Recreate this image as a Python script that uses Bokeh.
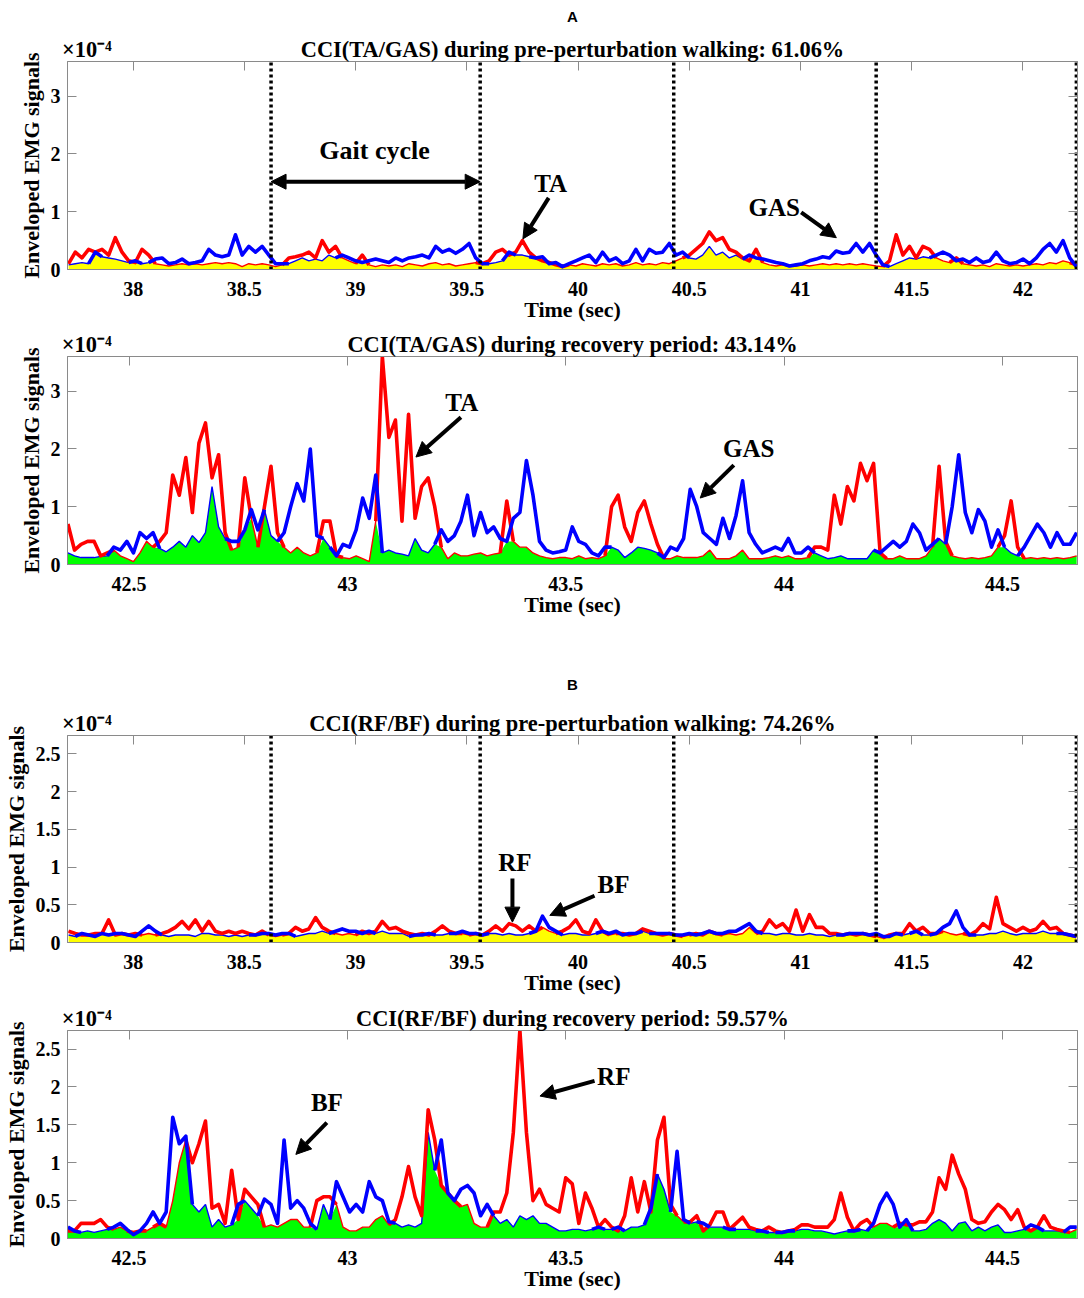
import numpy as np
from bokeh.plotting import figure
from bokeh.models import (Range1d, FixedTicker, LinearAxis, Arrow, NormalHead, Label, Title,
                          CustomJSTickFormatter)
from bokeh.layouts import column
from bokeh.embed import file_html
from bokeh.resources import INLINE

SERIF = "Liberation Serif"
SANS = "Liberation Sans"
AX_GRAY = "#8a8a8a"

# ---------------- data (x 1e-4) ----------------
pre_start, pre_step = 37.71, 0.03
rec_start, rec_step = 42.36, 0.015

ta_pre = [0.10,0.30,0.20,0.35,0.30,0.35,0.25,0.55,0.30,0.15,
          0.12,0.35,0.25,0.10,0.08,0.06,0.08,0.10,0.08,0.10,
          0.08,0.10,0.12,0.10,0.12,0.10,0.05,0.10,0.08,0.10,
          0.08,0.05,0.08,0.20,0.22,0.25,0.30,0.20,0.50,0.30,
          0.40,0.20,0.15,0.10,0.25,0.08,0.05,0.08,0.06,0.08,
          0.05,0.10,0.08,0.06,0.10,0.12,0.08,0.10,0.06,0.08,
          0.10,0.12,0.10,0.15,0.30,0.35,0.25,0.30,0.50,0.30,
          0.20,0.15,0.12,0.08,0.05,0.08,0.06,0.10,0.08,0.06,
          0.10,0.08,0.10,0.06,0.08,0.12,0.08,0.10,0.08,0.12,
          0.10,0.15,0.20,0.25,0.35,0.45,0.65,0.50,0.55,0.35,
          0.30,0.20,0.15,0.35,0.12,0.08,0.06,0.08,0.05,0.06,
          0.08,0.06,0.08,0.10,0.08,0.10,0.08,0.10,0.08,0.10,
          0.08,0.06,0.05,0.15,0.60,0.25,0.40,0.20,0.40,0.35,
          0.20,0.15,0.12,0.20,0.10,0.08,0.06,0.08,0.05,0.10,
          0.08,0.06,0.08,0.06,0.08,0.10,0.08,0.12,0.10,0.15,
          0.12,0.08]
gas_pre = [0.08,0.10,0.12,0.10,0.30,0.22,0.20,0.18,0.15,0.12,
           0.15,0.10,0.12,0.18,0.20,0.10,0.12,0.18,0.10,0.12,
           0.15,0.35,0.25,0.22,0.25,0.60,0.25,0.40,0.30,0.40,
           0.25,0.10,0.10,0.10,0.15,0.20,0.15,0.18,0.15,0.25,
           0.20,0.25,0.20,0.15,0.12,0.15,0.18,0.15,0.12,0.20,
           0.15,0.20,0.22,0.25,0.20,0.40,0.30,0.35,0.28,0.35,
           0.45,0.20,0.10,0.10,0.12,0.15,0.30,0.25,0.25,0.22,
           0.20,0.22,0.10,0.12,0.05,0.10,0.15,0.20,0.25,0.12,
           0.30,0.15,0.20,0.10,0.15,0.35,0.15,0.35,0.28,0.30,
           0.45,0.25,0.30,0.20,0.18,0.25,0.40,0.25,0.30,0.20,
           0.25,0.18,0.25,0.20,0.18,0.15,0.12,0.10,0.06,0.08,
           0.10,0.15,0.18,0.22,0.20,0.32,0.28,0.30,0.45,0.30,
           0.45,0.25,0.08,0.05,0.10,0.15,0.20,0.18,0.22,0.20,
           0.25,0.30,0.25,0.15,0.18,0.12,0.20,0.12,0.15,0.30,
           0.15,0.10,0.12,0.18,0.10,0.20,0.35,0.45,0.30,0.50,
           0.20,0.05]

ta_rec = [0.70,0.25,0.35,0.40,0.40,0.15,0.20,0.25,0.15,0.10,
          0.05,0.20,0.40,0.30,0.40,0.55,1.55,1.20,1.85,0.90,
          2.10,2.45,1.50,1.90,0.55,0.25,0.30,1.50,0.80,0.30,
          1.00,1.70,0.55,0.30,0.20,0.30,0.20,0.15,0.20,0.75,
          0.75,0.15,0.12,0.10,0.15,0.10,0.05,0.75,3.60,2.20,
          2.50,0.75,2.60,0.80,1.35,1.50,1.00,0.30,0.10,0.20,
          0.15,0.15,0.18,0.20,0.15,0.18,0.20,1.10,0.40,0.30,
          0.30,0.20,0.15,0.12,0.10,0.12,0.12,0.10,0.15,0.10,
          0.12,0.10,0.15,1.00,1.20,0.65,0.40,0.90,1.10,0.70,
          0.35,0.10,0.10,0.15,0.12,0.12,0.12,0.15,0.25,0.10,
          0.10,0.10,0.15,0.25,0.10,0.10,0.10,0.12,0.15,0.12,
          0.15,0.10,0.10,0.12,0.30,0.30,0.25,1.20,0.70,1.35,
          1.10,1.75,1.45,1.75,0.20,0.10,0.10,0.15,0.10,0.10,
          0.10,0.15,0.30,1.70,0.40,0.15,0.12,0.10,0.12,0.10,
          0.12,0.15,0.30,0.50,1.10,0.30,0.10,0.12,0.10,0.12,
          0.10,0.12,0.10,0.12,0.15]
gas_rec = [0.20,0.15,0.12,0.12,0.12,0.14,0.15,0.30,0.25,0.40,
           0.20,0.55,0.45,0.55,0.28,0.22,0.30,0.40,0.30,0.50,
           0.38,0.55,1.35,0.65,0.45,0.40,0.40,0.60,0.95,0.60,
           0.95,0.50,0.40,0.55,1.00,1.40,1.10,2.00,0.50,0.45,
           0.30,0.15,0.35,0.30,0.60,1.15,0.80,1.55,0.20,0.25,
           0.20,0.18,0.15,0.45,0.25,0.20,0.35,0.60,0.40,0.50,
           0.75,1.20,0.50,0.90,0.55,0.65,0.45,0.40,0.80,0.90,
           1.80,1.20,0.40,0.25,0.20,0.22,0.25,0.65,0.40,0.35,
           0.20,0.15,0.30,0.30,0.25,0.12,0.20,0.30,0.28,0.25,
           0.20,0.12,0.30,0.25,0.45,1.30,1.00,0.55,0.45,0.35,
           0.80,0.45,0.85,1.45,0.55,0.35,0.20,0.25,0.30,0.25,
           0.45,0.20,0.20,0.30,0.20,0.15,0.10,0.12,0.15,0.10,
           0.10,0.10,0.10,0.25,0.20,0.30,0.40,0.30,0.40,0.70,
           0.55,0.25,0.35,0.45,0.35,1.00,1.90,0.90,0.55,0.95,
           0.75,0.30,0.60,0.30,0.20,0.15,0.30,0.50,0.70,0.55,
           0.30,0.55,0.35,0.35,0.55]

rf_pre = [0.15,0.12,0.10,0.10,0.12,0.12,0.30,0.10,0.12,0.10,
          0.12,0.10,0.12,0.10,0.12,0.15,0.20,0.28,0.18,0.30,
          0.15,0.28,0.15,0.12,0.15,0.12,0.15,0.12,0.10,0.15,
          0.10,0.08,0.10,0.12,0.20,0.15,0.18,0.33,0.20,0.15,
          0.12,0.10,0.12,0.10,0.15,0.12,0.15,0.28,0.18,0.20,
          0.15,0.12,0.10,0.12,0.10,0.15,0.22,0.15,0.12,0.12,
          0.10,0.12,0.10,0.15,0.22,0.15,0.25,0.22,0.15,0.22,
          0.15,0.20,0.15,0.12,0.15,0.20,0.30,0.15,0.12,0.30,
          0.15,0.10,0.12,0.12,0.10,0.12,0.18,0.15,0.12,0.10,
          0.12,0.10,0.08,0.10,0.12,0.10,0.15,0.12,0.10,0.12,
          0.10,0.12,0.20,0.12,0.15,0.30,0.20,0.25,0.15,0.43,
          0.15,0.37,0.20,0.20,0.12,0.12,0.10,0.12,0.10,0.12,
          0.10,0.08,0.06,0.10,0.12,0.12,0.25,0.15,0.20,0.12,
          0.12,0.15,0.12,0.10,0.12,0.10,0.15,0.25,0.18,0.60,
          0.25,0.20,0.15,0.20,0.15,0.18,0.28,0.18,0.20,0.12,
          0.10,0.08]
bf_pre = [0.10,0.08,0.12,0.10,0.08,0.12,0.10,0.12,0.12,0.10,
          0.08,0.15,0.22,0.15,0.10,0.08,0.10,0.10,0.10,0.08,
          0.12,0.12,0.10,0.10,0.08,0.10,0.08,0.10,0.10,0.12,
          0.12,0.10,0.12,0.12,0.08,0.10,0.12,0.12,0.15,0.12,
          0.15,0.18,0.15,0.15,0.12,0.15,0.12,0.15,0.12,0.12,
          0.12,0.08,0.10,0.10,0.12,0.10,0.10,0.12,0.12,0.15,
          0.12,0.12,0.10,0.12,0.12,0.10,0.12,0.10,0.10,0.12,
          0.15,0.35,0.20,0.15,0.10,0.12,0.12,0.10,0.10,0.12,
          0.15,0.12,0.15,0.10,0.12,0.12,0.15,0.12,0.12,0.12,
          0.12,0.10,0.10,0.12,0.10,0.12,0.15,0.12,0.12,0.15,
          0.15,0.20,0.25,0.15,0.12,0.12,0.10,0.12,0.12,0.10,
          0.10,0.12,0.10,0.10,0.08,0.10,0.10,0.12,0.12,0.12,
          0.10,0.12,0.08,0.08,0.12,0.10,0.12,0.15,0.10,0.10,
          0.12,0.20,0.25,0.42,0.20,0.10,0.10,0.10,0.12,0.12,
          0.15,0.12,0.10,0.12,0.12,0.12,0.15,0.12,0.12,0.12,
          0.10,0.08]

rf_rec = [0.10,0.10,0.20,0.20,0.20,0.25,0.15,0.12,0.15,0.10,
          0.08,0.10,0.10,0.15,0.20,0.15,0.50,1.00,1.30,1.00,
          1.25,1.55,0.40,0.45,0.20,0.90,0.25,0.65,0.55,0.45,
          0.15,0.18,0.15,0.20,0.25,0.25,0.15,0.15,0.50,0.55,
          0.55,0.45,0.15,0.10,0.10,0.15,0.15,0.25,0.30,0.18,
          0.25,0.55,0.95,0.55,0.30,1.70,1.30,0.70,0.60,0.50,
          0.42,0.45,0.20,0.15,0.15,0.35,0.35,0.60,1.40,2.75,
          1.40,0.50,0.65,0.45,0.40,0.35,0.80,0.72,0.20,0.60,
          0.40,0.15,0.25,0.15,0.10,0.30,0.80,0.35,0.75,0.35,
          1.30,1.60,0.45,0.30,0.22,0.22,0.30,0.10,0.18,0.35,
          0.35,0.12,0.20,0.28,0.15,0.12,0.10,0.15,0.10,0.08,
          0.10,0.12,0.18,0.18,0.15,0.15,0.15,0.25,0.60,0.28,
          0.10,0.20,0.25,0.15,0.20,0.20,0.15,0.20,0.18,0.18,
          0.22,0.22,0.35,0.80,0.65,1.10,0.85,0.65,0.25,0.20,
          0.22,0.35,0.45,0.38,0.25,0.38,0.15,0.10,0.15,0.30,
          0.15,0.12,0.10,0.08,0.12]
bf_rec = [0.15,0.10,0.08,0.10,0.08,0.10,0.12,0.15,0.20,0.12,
          0.05,0.10,0.20,0.35,0.20,0.35,1.60,1.25,1.35,0.45,
          0.35,0.45,0.15,0.25,0.15,0.18,0.45,0.50,0.40,0.30,
          0.52,0.45,0.20,1.30,0.40,0.50,0.40,0.20,0.12,0.45,
          0.25,0.75,0.55,0.35,0.45,0.35,0.75,0.55,0.50,0.22,
          0.20,0.15,0.18,0.15,0.20,1.40,0.90,1.30,0.60,0.50,
          0.65,0.70,0.60,0.30,0.45,0.30,0.20,0.25,0.15,0.30,
          0.25,0.30,0.20,0.20,0.15,0.10,0.10,0.12,0.12,0.10,
          0.12,0.15,0.12,0.12,0.15,0.10,0.15,0.15,0.18,0.40,
          0.85,0.65,0.35,1.15,0.25,0.20,0.22,0.20,0.15,0.15,
          0.15,0.12,0.12,0.12,0.12,0.10,0.10,0.08,0.08,0.08,
          0.10,0.10,0.12,0.12,0.10,0.10,0.08,0.06,0.08,0.10,
          0.10,0.12,0.10,0.20,0.45,0.60,0.45,0.15,0.25,0.10,
          0.10,0.12,0.20,0.25,0.20,0.10,0.20,0.22,0.10,0.15,
          0.10,0.15,0.18,0.08,0.08,0.10,0.12,0.18,0.15,0.10,
          0.10,0.10,0.08,0.15,0.15]

pre_xlim = (37.705, 42.245)
rec_xlim = (42.359, 44.672)
pre_xticks = [38, 38.5, 39, 39.5, 40, 40.5, 41, 41.5, 42]
rec_xticks = [42.5, 43, 43.5, 44, 44.5]
ta_gas_yticks = [0, 1, 2, 3]
rf_bf_yticks = [0, 0.5, 1, 1.5, 2, 2.5]
ta_gas_ymax = 3.6
rf_bf_ymax = 2.745
gait_events = [38.62, 39.56, 40.43, 41.34, 42.24]

titles = ["CCI(TA/GAS) during pre-perturbation walking: 61.06%",
          "CCI(TA/GAS) during recovery period: 43.14%",
          "CCI(RF/BF) during pre-perturbation walking: 74.26%",
          "CCI(RF/BF) during recovery period: 59.57%"]
scale_text = "×10⁻⁴"


def thick_runs(t, a, b):
    n = min(len(a), len(b))
    mx = [a[i] >= b[i] for i in range(n)]
    xs, ys, cur = [], [], None
    for i in range(n - 1):
        if mx[i] or mx[i + 1]:
            if cur is None:
                cur = [i]
            cur.append(i + 1)
        else:
            if cur is not None:
                xs.append([t[j] for j in cur]); ys.append([a[j] for j in cur]); cur = None
    if cur is not None:
        xs.append([t[j] for j in cur]); ys.append([a[j] for j in cur])
    return xs, ys


def style_axis(ax, labels=True):
    ax.axis_line_color = AX_GRAY
    ax.major_tick_line_color = AX_GRAY
    ax.major_tick_in = 9
    ax.major_tick_out = 0
    ax.minor_tick_line_color = None
    ax.major_label_text_font = SERIF
    ax.major_label_text_font_style = "bold"
    ax.major_label_text_color = "black"
    ax.major_label_text_font_size = "20px"
    ax.axis_label_text_font = SERIF
    ax.axis_label_text_font_style = "bold"
    ax.axis_label_text_font_size = "22px"
    ax.axis_label_text_color = "black"
    if not labels:
        ax.formatter = CustomJSTickFormatter(code="return '';")
        ax.major_label_text_font_size = "1px"
        ax.major_label_standoff = 0


def make_panel(height, top, bottom, xlim, ymax, xticks, yticks, start, step, red, blue,
               fill_color, title, events, scale_dx, panel_letter=None, letter_standoff=0):
    p = figure(width=1084, height=height, x_range=Range1d(*xlim), y_range=Range1d(0, ymax),
               output_backend="svg", toolbar_location=None, x_axis_type=None, y_axis_type=None,
               min_border_left=62, min_border_right=7, min_border_top=top, min_border_bottom=bottom)
    p.outline_line_color = AX_GRAY
    p.background_fill_color = "white"
    p.border_fill_color = "white"
    fmt = CustomJSTickFormatter(code="return String(tick);")

    xb = LinearAxis(ticker=FixedTicker(ticks=xticks), formatter=fmt, axis_label="Time (sec)")
    style_axis(xb)
    xb.major_tick_in = 0
    xb.major_label_standoff = 12
    xb.axis_label_standoff = -2
    p.add_layout(xb, "below")

    yl = LinearAxis(ticker=FixedTicker(ticks=yticks), formatter=fmt,
                    axis_label="Enveloped EMG signals")
    style_axis(yl)
    yl.major_label_standoff = 7
    yl.axis_label_standoff = 4
    p.add_layout(yl, "left")

    yr = LinearAxis(ticker=FixedTicker(ticks=yticks))
    style_axis(yr, labels=False)
    p.add_layout(yr, "right")

    xt = LinearAxis(ticker=FixedTicker(ticks=xticks))
    style_axis(xt, labels=False)
    p.add_layout(xt, "above")

    # title row: scale factor at the left and the panel title in the centre
    xc = 0.5 * (xlim[0] + xlim[1])
    head = LinearAxis(ticker=FixedTicker(ticks=[xlim[0] + scale_dx, xc]),
                      formatter=CustomJSTickFormatter(args=dict(labels=[scale_text, title]),
                                                      code="return labels[index];"))
    head.axis_line_color = None
    head.major_tick_line_color = None
    head.minor_tick_line_color = None
    head.major_tick_in = 0
    head.major_tick_out = 0
    head.major_label_standoff = 0
    head.major_label_text_font = SERIF
    head.major_label_text_font_style = "bold"
    head.major_label_text_font_size = "22.4px"
    head.major_label_text_color = "black"
    p.add_layout(head, "above")

    if panel_letter:
        p.add_layout(Title(text=panel_letter, align="center", vertical_align="top", offset=-7,
                           standoff=letter_standoff, text_font=SANS, text_font_style="bold",
                           text_font_size="15px", text_color="black"), "above")

    n = min(len(red), len(blue))
    t = [start + step * i for i in range(n)]
    r = np.array(red[:n]); b = np.array(blue[:n])
    p.varea(x=t, y1=np.zeros(n), y2=np.minimum(r, b), fill_color=fill_color, fill_alpha=1.0)
    p.line(t, r, line_color="#ff0000", line_width=1.4)
    p.line(t, b, line_color="#0000ff", line_width=1.4)
    xs, ys = thick_runs(t, list(r), list(b))
    p.multi_line(xs, ys, line_color="#ff0000", line_width=3.6, line_join="round")
    xs, ys = thick_runs(t, list(b), list(r))
    p.multi_line(xs, ys, line_color="#0000ff", line_width=3.6, line_join="round")

    if events:
        p.segment(x0=events, y0=[0] * len(events), x1=events, y1=[ymax] * len(events),
                  line_color="black", line_width=3.5, line_dash="3 3")
    return p


def note(p, text, x, y, size="25px"):
    p.add_layout(Label(x=x, y=y, text=text, text_align="center", text_baseline="middle",
                       text_font=SERIF, text_font_style="bold", text_font_size=size,
                       text_color="black"))


def arrow(p, x0, y0, x1, y1, both=False):
    head = lambda: NormalHead(size=15, fill_color="black", line_color="black")
    p.add_layout(Arrow(start=head() if both else None, end=head(), x_start=x0, y_start=y0,
                       x_end=x1, y_end=y1, line_width=4, line_color="black"))


p1 = make_panel(327, 61, 58, pre_xlim, ta_gas_ymax, pre_xticks, ta_gas_yticks, pre_start, pre_step,
                ta_pre, gas_pre, "#ffff00", titles[0], gait_events, 0.087, "A", 13)
note(p1, "Gait cycle", 39.085, 2.06, "26px")
arrow(p1, 38.62, 1.52, 39.56, 1.52, both=True)
note(p1, "TA", 39.877, 1.49)
arrow(p1, 39.868, 1.24, 39.752, 0.53)
note(p1, "GAS", 40.882, 1.07)
arrow(p1, 41.003, 0.99, 41.161, 0.55)

p2 = make_panel(297, 29, 60, rec_xlim, ta_gas_ymax, rec_xticks, ta_gas_yticks, rec_start, rec_step,
                ta_rec, gas_rec, "#00ff00", titles[1], None, 0.044)
note(p2, "TA", 43.262, 2.81)
arrow(p2, 43.26, 2.55, 43.157, 1.86)
note(p2, "GAS", 43.919, 2.01)
arrow(p2, 43.885, 1.72, 43.808, 1.15)

p3 = make_panel(376, 111, 58, pre_xlim, rf_bf_ymax, pre_xticks, rf_bf_yticks, pre_start, pre_step,
                rf_pre, bf_pre, "#ffff00", titles[2], gait_events, 0.087, "B", 26)
note(p3, "RF", 39.716, 1.06)
arrow(p3, 39.705, 0.85, 39.705, 0.27)
note(p3, "BF", 40.159, 0.77)
arrow(p3, 40.074, 0.62, 39.873, 0.36)

p4 = make_panel(298, 30, 60, rec_xlim, rf_bf_ymax, rec_xticks, rf_bf_yticks, rec_start, rec_step,
                rf_rec, bf_rec, "#00ff00", titles[3], None, 0.044)
note(p4, "BF", 42.953, 1.79)
arrow(p4, 42.953, 1.53, 42.882, 1.11)
note(p4, "RF", 43.61, 2.14)
arrow(p4, 43.566, 2.08, 43.441, 1.88)

layout = column(p1, p2, p3, p4, spacing=0)
open("out.html", "w").write(file_html(layout, INLINE))
